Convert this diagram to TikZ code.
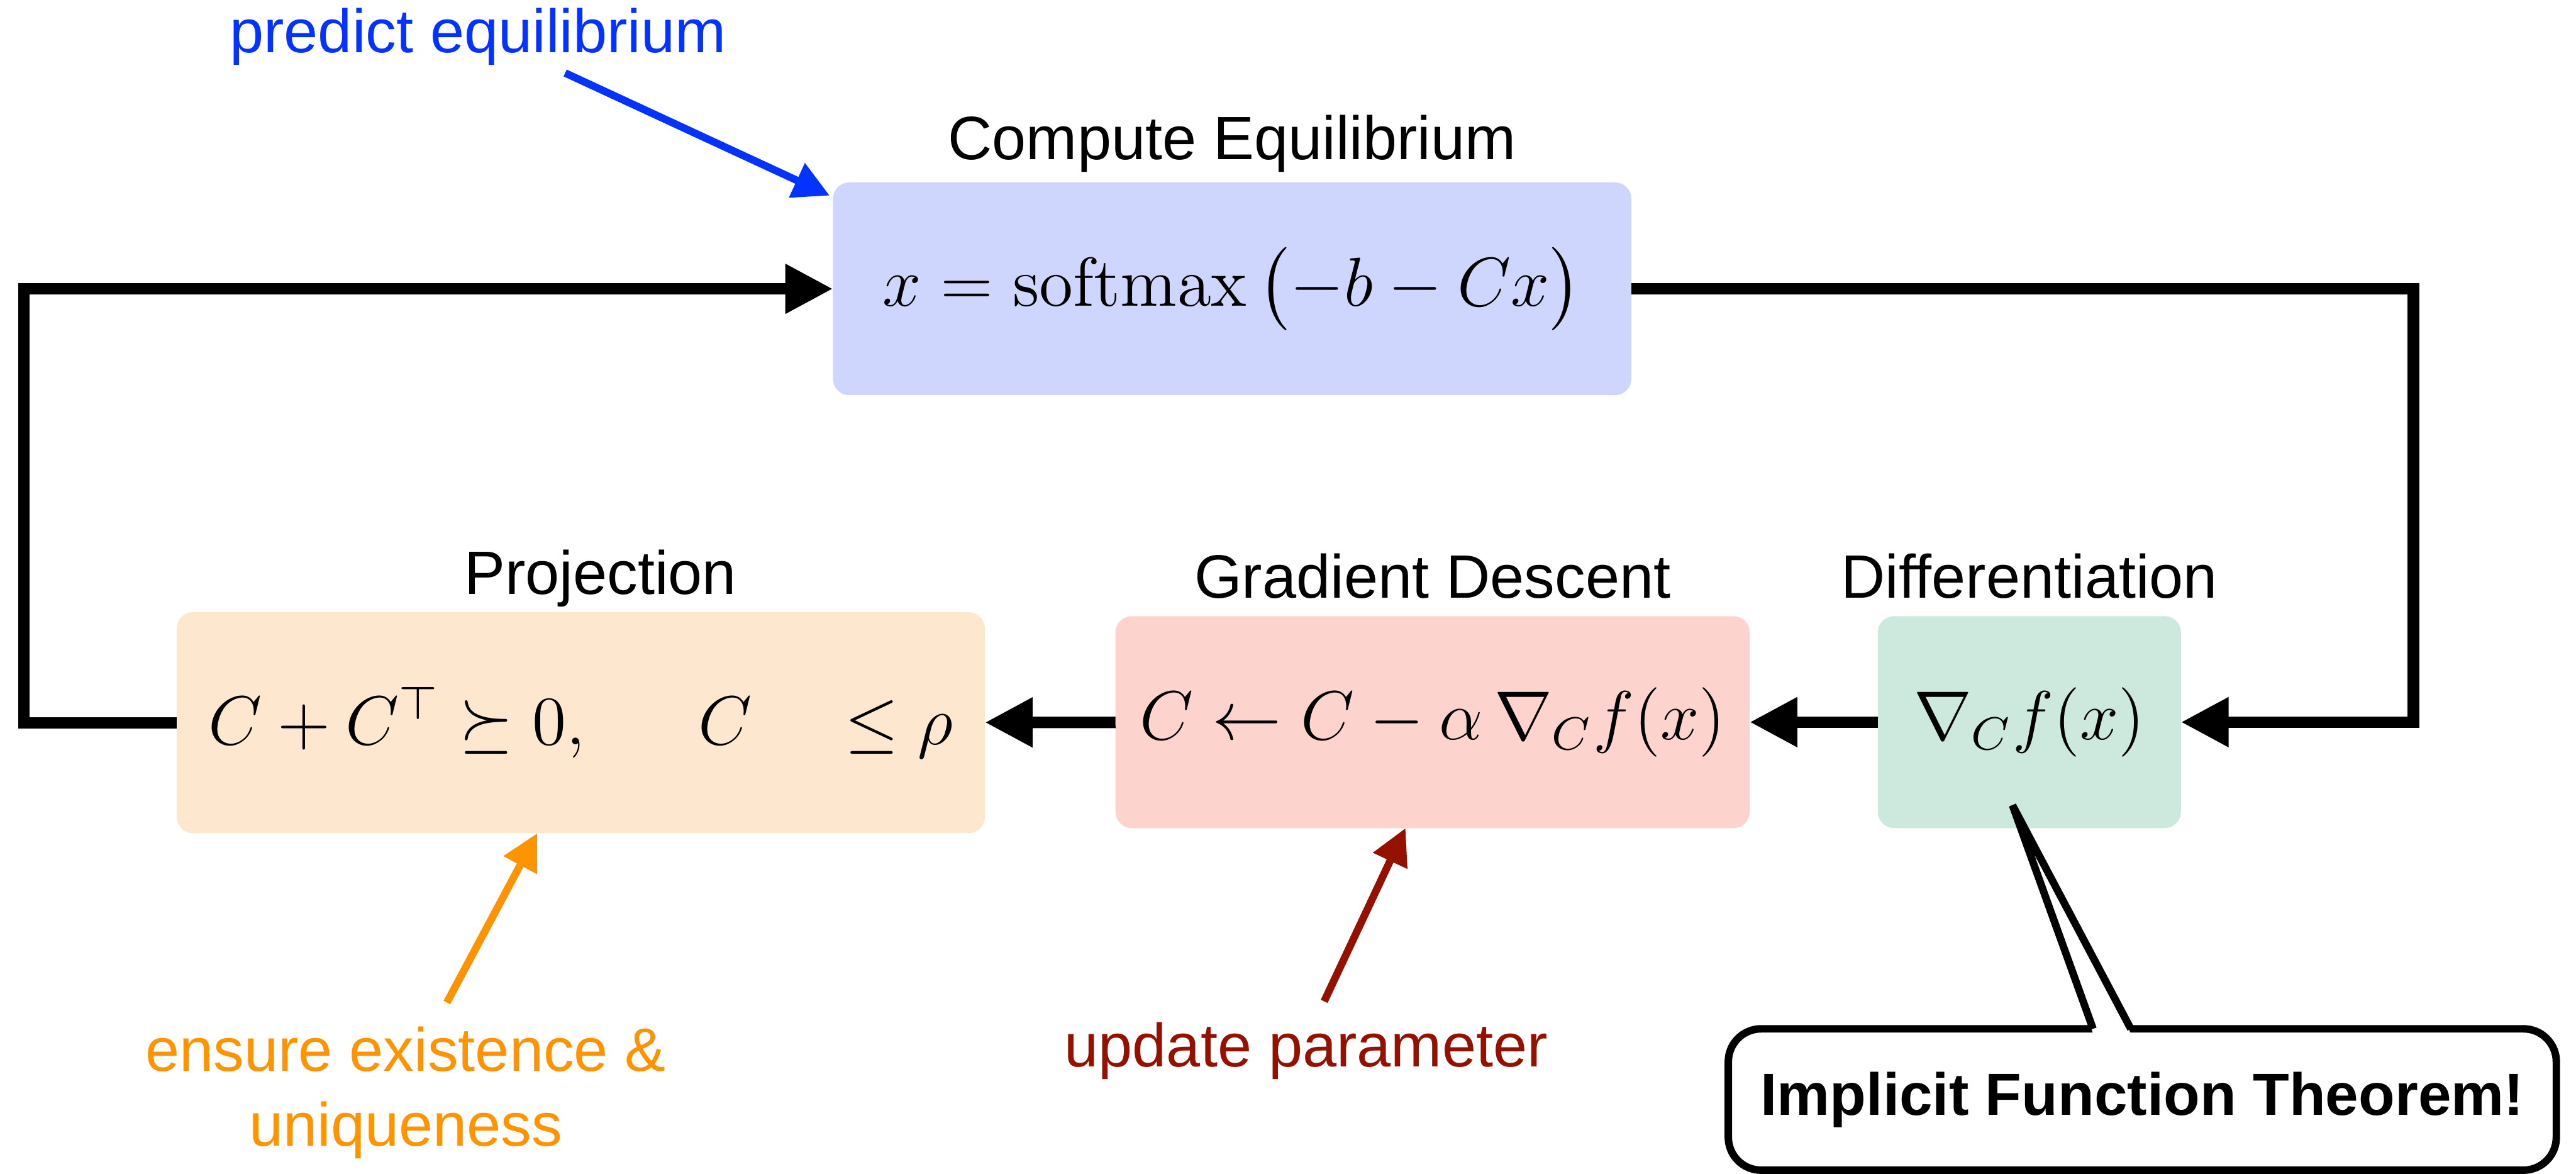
\documentclass[tikz,border=0pt]{standalone}
\usepackage{amsmath}
\usepackage[no-math]{fontspec}
\setmainfont{Liberation Sans}
\usetikzlibrary{arrows.meta}

\definecolor{eqblue}{RGB}{206,214,253}
\definecolor{projorange}{RGB}{253,232,207}
\definecolor{gradred}{RGB}{253,211,206}
\definecolor{diffgreen}{RGB}{205,232,220}
\definecolor{annblue}{RGB}{4,51,255}
\definecolor{annorange}{RGB}{255,147,0}
\definecolor{anndarkred}{RGB}{148,17,0}

\newcommand{\boxfont}{\fontsize{11.6}{14}\selectfont}
\newcommand{\labfont}{\fontsize{10.6}{13}\selectfont}

\begin{document}
\begin{tikzpicture}[
	box/.style={rounded corners=1mm, inner sep=0pt, outer sep=0pt, font=\boxfont},
	title/.style={anchor=base, inner sep=0pt, font=\labfont},
	flow/.style={line width=0.7mm, -{Triangle[length=2.9mm,width=2.85mm]}},
	note/.style={line width=1.3pt, -{Triangle[length=2.2mm,width=2.2mm]}},
	notetext/.style={inner sep=0pt, font=\labfont}
]
\useasboundingbox (0,0) rectangle (15.68,-7.14);

% the four steps
\node[box, fill=eqblue, minimum width=4.86cm, minimum height=1.295cm] (eq) at (7.50,-1.7575) {$x = \mathrm{softmax}\,\bigl(-b - Cx\bigr)$};
\node[box, fill=projorange, minimum width=4.92cm, minimum height=1.345cm] (proj) at (3.535,-4.3975) {$C + C^{\top} \succeq 0,\quad\hphantom{\|}C\hspace{1.1em}\le \rho$};
\node[box, fill=gradred, minimum width=3.86cm, minimum height=1.29cm] (grad) at (8.72,-4.394) {$C \leftarrow C - \alpha\,\nabla_{C} f(x)$};
\node[box, fill=diffgreen, minimum width=1.845cm, minimum height=1.29cm] (diff) at (12.3525,-4.394) {$\nabla_{C} f(x)$};

\node[title] (eqtitle) at ([yshift=1.4mm]eq.north) {Compute Equilibrium};
\node[title] (projtitle) at ([xshift=1.2mm,yshift=1.1mm]proj.north) {Projection};
\node[title] (gradtitle) at ([yshift=1.1mm]grad.north) {Gradient Descent};
\node[title] (difftitle) at ([yshift=1.1mm]diff.north) {Differentiation};

% loop
\draw[flow] (diff) -- (grad);
\draw[flow] (grad) -- (proj);
\draw[flow] (proj.west) -- ++(-9.3mm,0) |- (eq.west);
\draw[flow] (eq.east) -- ++(47.6mm,0) |- (diff.east);

% remarks
\node[notetext, text=annblue, anchor=base] (pred) at (2.91,-0.32) {predict equilibrium};
\draw[note, annblue] ([xshift=5.3mm,yshift=-0.4mm]pred.south) -- ([shift={(-0.2mm,-0.8mm)}]eq.north west);

\node[notetext, text=annorange, align=center, anchor=north] (ensure) at (2.47,-6.24) {ensure existence \&\\uniqueness};
\draw[note, annorange] ([xshift=2.5mm,yshift=1.4mm]ensure.north) -- ([xshift=-2.65mm]proj.south);

\node[notetext, text=anndarkred, anchor=base] (update) at (7.95,-6.49) {update parameter};
\draw[note, anndarkred] ([xshift=1.1mm,yshift=1.2mm]update.north) -- ([xshift=-1.65mm]grad.south);

% callout
\node[draw, line width=1.3pt, rounded corners=2mm, fill=white, minimum width=5.04cm, minimum height=0.86cm, inner sep=0pt, outer sep=0pt, font={\fontsize{10.3}{12}\selectfont\bfseries}] (ift) at (13.04,-6.69) {Implicit Function Theorem!};
\coordinate (ifttip) at (12.25,-4.90);
\fill[white] ([xshift=-3mm,yshift=-0.8pt]ift.north) -- (ifttip) -- ([xshift=-0.7mm,yshift=-0.8pt]ift.north) -- cycle;
\draw[line width=1.3pt] ([xshift=-3mm]ift.north) -- (ifttip) -- ([xshift=-0.7mm]ift.north);
%\draw[red] (ift.north) circle (0.5mm);
\end{tikzpicture}
\end{document}
